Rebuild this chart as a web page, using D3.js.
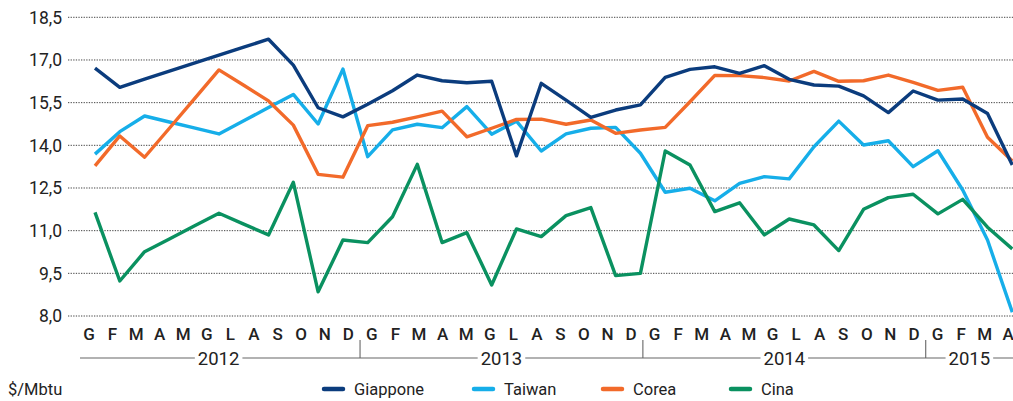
<!DOCTYPE html>
<html>
<head>
<meta charset="utf-8">
<script src="https://cdn.jsdelivr.net/npm/d3@7"></script>
<style>
  html, body { margin: 0; padding: 0; background: #fff; }
  svg { display: block; font-family: Roboto, "Open Sans", sans-serif; }
</style>
</head>
<body>
<svg id="chart" width="1013" height="401"></svg>
<script>
// ---- data ----
const monthLabels = ["G","F","M","A","M","G","L","A","S","O","N","D",
                     "G","F","M","A","M","G","L","A","S","O","N","D",
                     "G","F","M","A","M","G","L","A","S","O","N","D",
                     "G","F","M","A"];
const years = ["2012","2013","2014","2015"];
const yTicks = [8.0, 9.5, 11.0, 12.5, 14.0, 15.5, 17.0, 18.5];
const seriesNames = ["Giappone","Taiwan","Corea","Cina"];
const seriesColors = ["#0b3c7d","#16aee9","#f26a2a","#0a9160"];

const giappone = [16.71,16.04,16.33,16.61,16.89,17.17,17.45,17.73,16.82,15.32,
                  15.0,15.44,15.92,16.47,16.27,16.2,16.25,13.63,16.18,15.59,
                  14.98,15.24,15.42,16.39,16.67,16.76,16.53,16.8,16.32,16.12,
                  16.08,15.74,15.15,15.91,15.59,15.63,15.12,13.31];
const taiwan   = [13.69,14.48,15.03,14.82,14.61,14.4,14.86,15.33,15.79,14.75,
                  16.68,13.6,14.54,14.74,14.62,15.36,14.39,14.85,13.8,14.4,
                  14.6,14.63,13.72,12.35,12.49,12.05,12.66,12.9,12.82,13.95,
                  14.85,14.01,14.16,13.25,13.81,12.43,10.67,8.13];
const corea    = [13.28,14.33,13.58,14.6,15.62,16.65,16.11,15.56,14.71,12.98,
                  12.88,14.69,14.81,15.0,15.2,14.3,14.6,14.91,14.92,14.74,
                  14.89,14.42,14.54,14.63,15.53,16.46,16.45,16.38,16.26,16.6,
                  16.25,16.27,16.47,16.21,15.93,16.04,14.28,13.45];
const cina     = [11.64,9.23,10.26,10.71,11.16,11.61,11.23,10.85,12.7,8.85,
                  10.67,10.58,11.49,13.33,10.58,10.93,9.09,11.06,10.79,11.53,
                  11.81,9.42,9.5,13.8,13.31,11.67,11.98,10.85,11.41,11.2,
                  10.3,11.75,12.16,12.28,11.59,12.1,11.12,10.36];
const seriesValues = [giappone, taiwan, corea, cina];

// ---- layout ----
const W = 1013;
const svg = d3.select("#chart");
const gridLeft = 68, gridRight = 1013;

const y = d3.scaleLinear().domain([8, 18.5]).range([316, 17.3]);
const xPts = d3.scalePoint().domain(d3.range(giappone.length)).range([95, 1012.3]);
const monthStep = 23.57;
const xMonth = d3.scaleBand().domain(d3.range(monthLabels.length))
  .range([77.2, 77.2 + monthStep * monthLabels.length]).padding(0);

// gridlines
svg.append("g").selectAll("line").data(yTicks).join("line")
  .attr("x1", gridLeft).attr("x2", gridRight)
  .attr("y1", d => y(d)).attr("y2", d => y(d))
  .attr("stroke", "#444").attr("stroke-width", 1)
  .attr("stroke-dasharray", "1.3,1.3");

// y labels
const fmt = d => d3.format(".1f")(d).replace(".", ",");
svg.append("g").selectAll("text").data(yTicks).join("text")
  .attr("x", 62).attr("y", d => y(d)).attr("dy", "0.36em")
  .attr("text-anchor", "end").attr("font-size", 17.5).attr("fill", "#222")
  .text(fmt);

// lines (draw order)
const line = d3.line().x((d, i) => xPts(i)).y(d => y(d));
const order = [1, 2, 0, 3];
svg.append("g").selectAll("path").data(order).join("path")
  .attr("d", k => line(seriesValues[k]))
  .attr("fill", "none")
  .attr("stroke", k => seriesColors[k])
  .attr("stroke-width", 3.4)
  .attr("stroke-linejoin", "round")
  .attr("stroke-linecap", "butt");

// month labels
svg.append("g").selectAll("text").data(monthLabels).join("text")
  .attr("x", (d, i) => xMonth(i) + xMonth.bandwidth() / 2)
  .attr("y", 340)
  .attr("text-anchor", "middle").attr("font-size", 17).attr("font-weight", 500)
  .attr("fill", "#222")
  .text(d => d);

// year axis
const yearLineY = 358;
const axisG = svg.append("g");
axisG.append("line")
  .attr("x1", 80).attr("x2", W).attr("y1", yearLineY).attr("y2", yearLineY)
  .attr("stroke", "#666").attr("stroke-width", 1.1);
// separators
const sepIdx = [12, 24, 36];
axisG.selectAll("line.sep").data(sepIdx).join("line").attr("class", "sep")
  .attr("x1", d => xMonth(d)).attr("x2", d => xMonth(d))
  .attr("y1", 340).attr("y2", yearLineY)
  .attr("stroke", "#666").attr("stroke-width", 1.1);
// year labels
const yearCenters = years.map((yr, k) => {
  const s = xMonth(k * 12);
  const e = Math.min(xMonth(Math.min(k * 12 + 11, monthLabels.length - 1)) + xMonth.bandwidth(), W);
  return (s + e) / 2;
});
years.forEach((yr, k) => {
  const t = axisG.append("text")
    .attr("x", yearCenters[k]).attr("y", yearLineY).attr("dy", "0.36em")
    .attr("text-anchor", "middle").attr("font-size", 18.5).attr("fill", "#222")
    .text(yr);
  const bb = t.node().getBBox();
  axisG.insert("rect", "text")
    .attr("x", bb.x - 3).attr("width", bb.width + 6)
    .attr("y", yearLineY - 3).attr("height", 6).attr("fill", "#fff");
});

// unit label
svg.append("text").attr("x", 8).attr("y", 395)
  .attr("font-size", 16.5).attr("fill", "#222").text("$/Mbtu");

// legend
const legendX = [323, 473, 602, 730];
const lg = svg.append("g").selectAll("g").data(seriesNames).join("g")
  .attr("transform", (d, i) => `translate(${legendX[i]},389)`);
lg.append("line").attr("x1", 1).attr("x2", 20).attr("y1", 0).attr("y2", 0)
  .attr("stroke", (d, i) => seriesColors[i]).attr("stroke-width", 4.5)
  .attr("stroke-linecap", "round");
lg.append("text").attr("x", 31).attr("y", 0).attr("dy", "0.36em")
  .attr("font-size", 16.5).attr("fill", "#222").text(d => d);
</script>
</body>
</html>
